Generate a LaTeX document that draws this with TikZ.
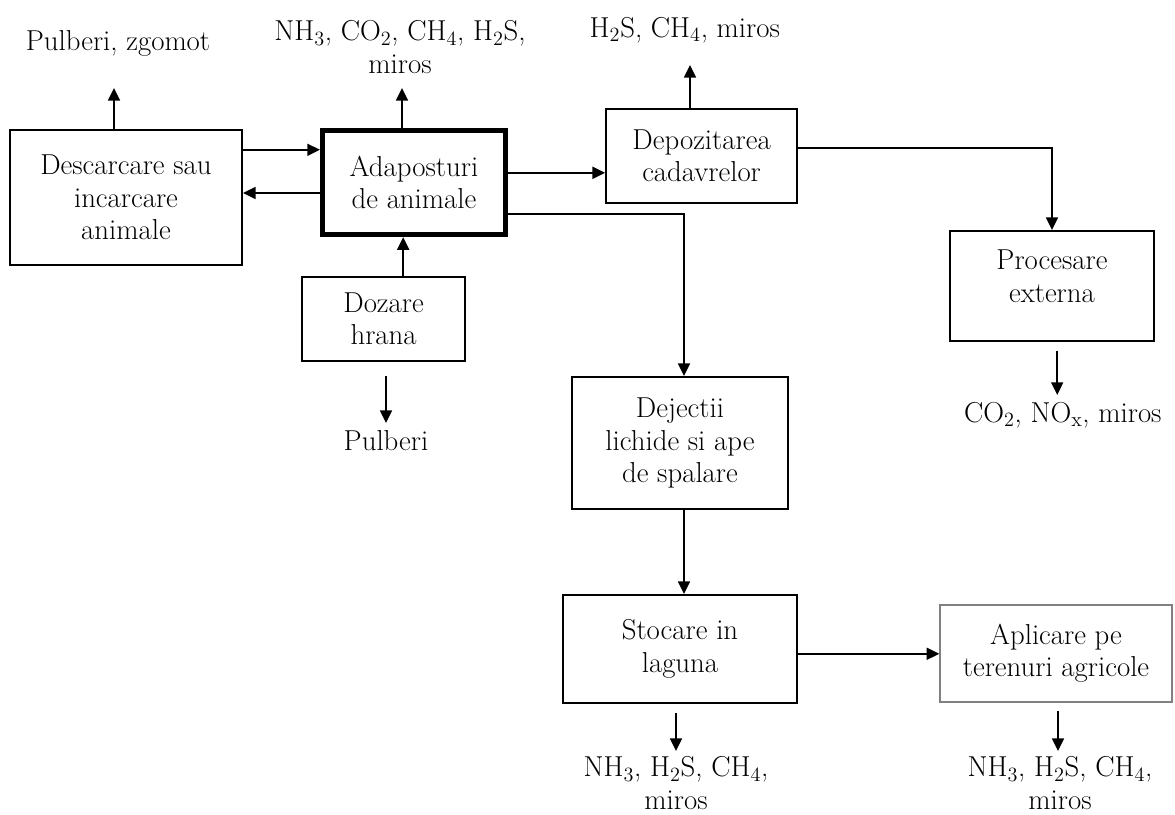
\documentclass[tikz,border=0pt]{standalone}
\usepackage{tikz}
\usetikzlibrary{arrows.meta,positioning,calc}

\begin{document}
\begin{tikzpicture}[font=\fontsize{20.5}{23}\selectfont,
    box/.style={draw,line width=1.4pt,align=center,inner sep=2pt},
    flow/.style={-{Triangle[length=9pt,width=8.5pt]},line width=1.3pt},
    gas/.style={align=center,inner sep=1pt}]
  \useasboundingbox (0,0) rectangle (29.375,20.375);
  % Process boxes
  \node[box,minimum width=5.8cm,minimum height=3.375cm] (desc) at (3.15,15.44)
    {Descarcare sau\\incarcare\\animale};
  \node[box,line width=3.6pt,minimum width=4.575cm,minimum height=2.6cm] (adap) at (10.35,15.81)
    {Adaposturi\\de animale};
  \node[box,minimum width=4.775cm,minimum height=2.35cm] (depo) at (17.54,16.475)
    {Depozitarea\\cadavrelor};
  \node[box,minimum width=5.1cm,minimum height=2.75cm] (proc) at (26.3,13.225)
    {Procesare\\externa\\[-9pt]};
  \node[box,minimum width=4.075cm,minimum height=2.1cm] (doz) at (9.59,12.4)
    {Dozare\\hrana};
  \node[box,minimum width=5.4cm,minimum height=3.3cm] (dej) at (17.0,9.3)
    {Dejectii\\lichide si ape\\de spalare};
  \node[box,minimum width=5.85cm,minimum height=2.7cm] (stoc) at (17.0,4.15)
    {Stocare in\\laguna};
  \node[box,draw=gray,line width=1pt,minimum width=5.8cm,minimum height=2.425cm] (apl) at (26.4,4.04)
    {Aplicare pe\\terenuri agricole};
  % Emissions
  \node[gas] (emdesc) at (2.95,19.3) {Pulberi, zgomot};
  \node[gas] (emadap) at (10.0,19.2) {NH$_3$, CO$_2$, CH$_4$, H$_2$S,\\miros};
  \node[gas] (emdepo) at (17.12,19.62) {H$_2$S, CH$_4$, miros};
  \node[gas] (emdoz) at (9.65,9.37) {Pulberi};
  \node[gas] (emproc) at (26.57,10.0) {CO$_2$, NO$_{\mathrm{x}}$, miros};
  \node[gas] (emstoc) at (16.9,0.8) {NH$_3$, H$_2$S, CH$_4$,\\miros};
  \node[gas] (emapl) at (26.5,0.8) {NH$_3$, H$_2$S, CH$_4$,\\miros};
  \coordinate (descout) at (2.85,18.175);
  \coordinate (adapout) at (10.05,18.175);
  \coordinate (depoout) at (17.25,18.75);
  \coordinate (dozout) at (9.65,9.8);
  \coordinate (procout) at (26.43,10.5);
  \coordinate (stocout) at (16.9,1.6);
  \coordinate (aplout) at (26.45,1.6);
  % Flows between boxes
  \draw[flow] ([yshift=1.19cm]desc.east) -- ([yshift=1.19cm]desc.east -| adap.west);
  \draw[flow] ([yshift=-0.26cm]adap.west) -- ([yshift=-0.26cm]adap.west -| desc.east);
  \draw[flow] ([yshift=-0.42cm]depo.west -| adap.east) -- ([yshift=-0.42cm]depo.west);
  \draw[flow] ([yshift=-0.79cm]adap.east) -| ([xshift=0.1cm]dej.north);
  \draw[flow] ([yshift=0.19cm]depo.east) -| (proc.north);
  \draw[flow] ([xshift=0.49cm]doz.north) -- ([xshift=0.49cm]doz.north |- adap.south);
  \draw[flow] ([xshift=0.1cm]dej.south) -- ([xshift=0.1cm]dej.south |- stoc.north);
  \draw[flow] ([yshift=-0.12cm]stoc.east) -- ([yshift=-0.12cm]stoc.east -| apl.west);
  % Flows to the air
  \draw[flow] (descout |- desc.north) -- (descout);
  \draw[flow] (adapout |- adap.north) -- (adapout);
  \draw[flow] (depoout |- depo.north) -- (depoout);
  \draw[flow] ($(dozout |- doz.south)+(0,-0.35)$) -- (dozout);
  \draw[flow] ($(procout |- proc.south)+(0,-0.22)$) -- (procout);
  \draw[flow] ($(stocout |- stoc.south)+(0,-0.22)$) -- (stocout);
  \draw[flow] ($(aplout |- apl.south)+(0,-0.22)$) -- (aplout);
\end{tikzpicture}
\end{document}
